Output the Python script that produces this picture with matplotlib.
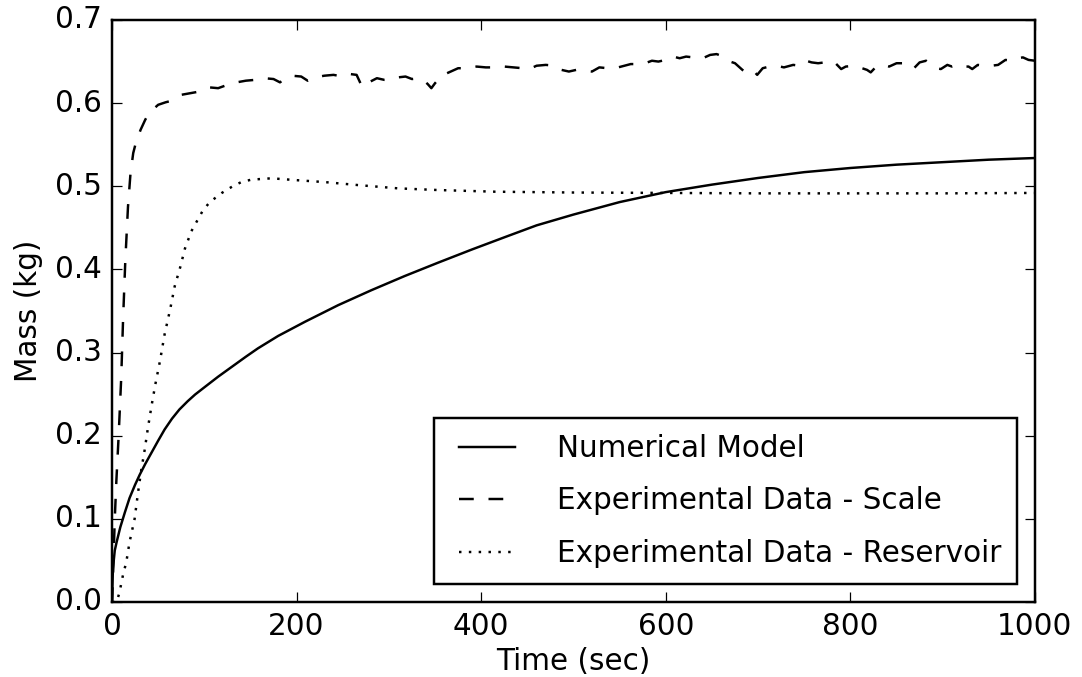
import matplotlib
matplotlib.use("Agg")
import matplotlib.pyplot as plt

plt.style.use("classic")
plt.rcParams["font.family"] = ["DejaVu Sans"]
plt.rcParams["savefig.facecolor"] = "white"
plt.rcParams["figure.facecolor"] = "white"

# Numerical model
model_t = [0, 1, 3, 5, 9, 14, 19, 25, 30, 36, 43, 50, 57, 65, 73, 82, 90, 101,
           115, 130, 145, 158, 180, 209, 245, 281, 317, 353, 390, 426, 460, 500,
           550, 600, 650, 700, 750, 800, 850, 900, 950, 1000]
model_m = [0.0, 0.04, 0.062, 0.072, 0.09, 0.108, 0.125, 0.141, 0.153, 0.166,
           0.180, 0.194, 0.2075, 0.2205, 0.2315, 0.2415, 0.2495, 0.259, 0.271,
           0.283, 0.295, 0.305, 0.32, 0.337, 0.357, 0.375, 0.392, 0.408, 0.424,
           0.439, 0.453, 0.466, 0.481, 0.493, 0.502, 0.510, 0.517, 0.522, 0.526,
           0.529, 0.532, 0.534]

# Experimental data - scale
scale_t = [0, 1, 2, 3, 4.7, 7.2, 10, 12, 14.4, 17.3, 20, 23, 26, 31, 36, 40, 45,
           50, 58, 65, 75, 85, 95, 105, 115, 125, 135, 145, 155, 165, 175, 182,
           188, 195, 205, 212, 220, 230, 240, 250, 258, 265, 270, 273, 280, 287,
           295, 302, 310, 318, 325, 333, 338, 342, 346, 350, 357, 365, 375, 385,
           395, 405, 415, 425, 435, 445, 452, 460, 470, 480, 487, 495, 503, 512,
           520, 528, 537, 545, 555, 562, 575, 585, 592, 600, 608, 615, 622, 630,
           640, 648, 655, 660, 667, 675, 683, 688, 695, 699, 705, 712, 720, 728,
           738, 745, 752, 758, 765, 772, 778, 783, 790, 795, 805, 810, 818, 822,
           828, 835, 842, 850, 856, 862, 868, 875, 882, 888, 893, 898, 905, 910,
           916, 920, 928, 932, 938, 945, 953, 960, 968, 975, 980, 987, 993, 1000]
scale_m = [0.0, 0.03, 0.065, 0.1, 0.145, 0.2, 0.27, 0.34, 0.41, 0.475, 0.515,
           0.54, 0.553, 0.568, 0.58, 0.588, 0.593, 0.598, 0.601, 0.603, 0.61,
           0.612, 0.614, 0.619, 0.618, 0.622, 0.625, 0.627, 0.628, 0.63, 0.629,
           0.625, 0.63, 0.633, 0.632, 0.627, 0.631, 0.633, 0.634, 0.632, 0.635,
           0.634, 0.622, 0.628, 0.626, 0.630, 0.628, 0.628, 0.631, 0.632, 0.629,
           0.630, 0.627, 0.623, 0.618, 0.624, 0.633, 0.637, 0.642, 0.642, 0.644,
           0.643, 0.643, 0.644, 0.643, 0.642, 0.641, 0.645, 0.646, 0.645, 0.64,
           0.638, 0.64, 0.639, 0.638, 0.643, 0.642, 0.642, 0.645, 0.647, 0.647,
           0.651, 0.650, 0.652, 0.656, 0.654, 0.656, 0.655, 0.654, 0.658, 0.659,
           0.657, 0.651, 0.648, 0.64, 0.636, 0.639, 0.634, 0.642, 0.644, 0.645,
           0.643, 0.646, 0.645, 0.651, 0.649, 0.648, 0.649, 0.647, 0.649, 0.641,
           0.644, 0.645, 0.643, 0.64, 0.637, 0.644, 0.646, 0.644, 0.648, 0.648,
           0.643, 0.641, 0.649, 0.651, 0.646, 0.642, 0.641, 0.646, 0.644, 0.646,
           0.644, 0.644, 0.641, 0.646, 0.645, 0.645, 0.646, 0.652, 0.651, 0.654,
           0.655, 0.652, 0.651]

# Experimental data - reservoir
res_t = [0, 5, 8, 12, 15.5, 19, 24.5, 28, 31.6, 35.4, 39, 43, 47, 52, 57, 63,
         68, 74, 79, 86, 93, 98.5, 106, 119, 130, 140, 151, 173, 198, 231, 266,
         310, 353, 415, 500, 600, 700, 800, 900, 1000]
res_m = [0.0, 0.0, 0.011, 0.033, 0.048, 0.072, 0.10, 0.13, 0.158, 0.183, 0.21,
         0.237, 0.262, 0.29, 0.322, 0.352, 0.38, 0.403, 0.425, 0.446, 0.46,
         0.471, 0.481, 0.492, 0.4995, 0.505, 0.508, 0.5096, 0.5075, 0.505,
         0.5015, 0.4975, 0.4955, 0.4935, 0.4925, 0.492, 0.4915, 0.4915, 0.4915,
         0.492]

labels = ["Numerical Model", "Experimental Data - Scale",
          "Experimental Data - Reservoir"]

DPI = 177
fig = plt.figure(figsize=(1082 / DPI, 677 / DPI), dpi=DPI)
ax = fig.add_axes([112 / 1082, 75 / 677, 923 / 1082, 582 / 677])

ax.plot(model_t, model_m, "k-", lw=1.0, label=labels[0])
ax.plot(scale_t, scale_m, "k--", lw=1.0, label=labels[1])
ax.plot(res_t, res_m, "k:", lw=1.0, label=labels[2])

ax.set_xlim(0, 1000)
ax.set_ylim(0, 0.7)
ax.set_xlabel("Time (sec)", labelpad=2.5)
ax.set_ylabel("Mass (kg)")

ax.legend(loc="lower right", fontsize=12, handlelength=2.5, handletextpad=1.1,
          borderaxespad=0.6, labelspacing=0.8, borderpad=0.55)

fig.savefig("out.png", dpi=DPI)
